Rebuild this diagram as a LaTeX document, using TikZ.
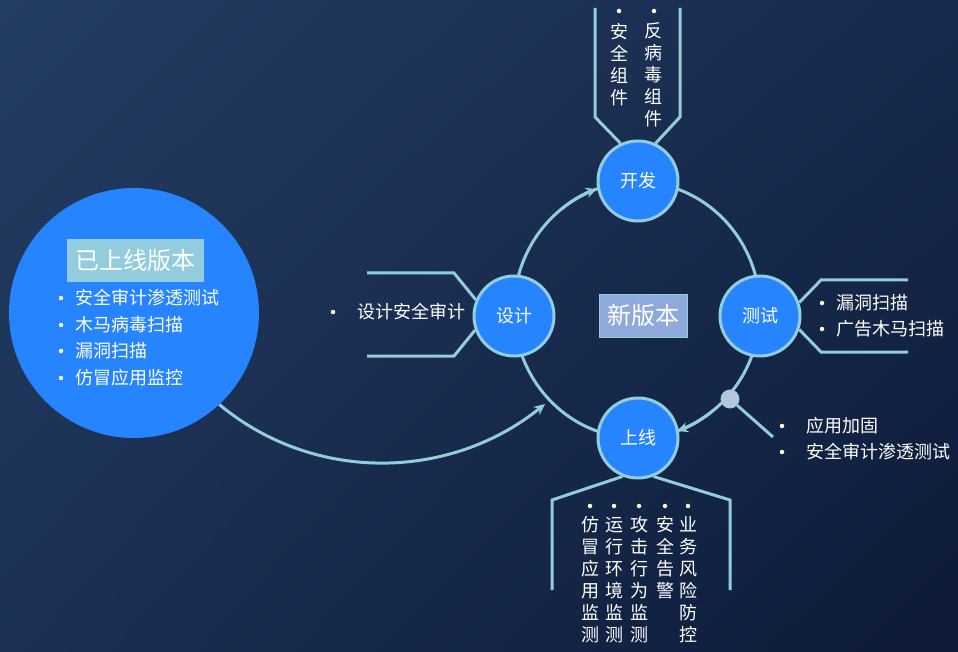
\documentclass[tikz,border=0pt]{standalone}
\usepackage{fontspec}
\setmainfont{Noto Sans CJK SC}
\usetikzlibrary{arrows.meta,calc,shadings}
\definecolor{ringc}{HTML}{92CDDC}
\definecolor{nodeblue}{HTML}{2684FF}
\definecolor{titlebg}{HTML}{93CDDD}
\definecolor{newbg}{HTML}{8EAADB}
\definecolor{bgA}{HTML}{243D63}
\definecolor{bgB}{HTML}{172A4D}
\definecolor{bgC}{HTML}{1B3054}
\definecolor{bgD}{HTML}{0D1A38}
\definecolor{dotc}{HTML}{B4C7DC}
\begin{document}
\begin{tikzpicture}[x=1pt,y=-1pt,
  ring/.style={draw=ringc,line width=3pt},
  tip/.style={-{Stealth[length=11pt,width=10pt]}},
  stage/.style={circle,fill=nodeblue,draw=ringc,line width=3pt,minimum size=80pt,inner sep=0pt,text=white,font=\fontsize{18}{22}\selectfont},
  txt/.style={text=white,font=\fontsize{18}{22}\selectfont,inner sep=0pt},
  vtxt/.style={text=white,font=\fontsize{18}{22}\selectfont,inner sep=0pt,align=center,anchor=center},
  bul/.style={fill=white,draw=none,circle,inner sep=0pt,minimum size=4.5pt}
]
\useasboundingbox (0,0) rectangle (958,652);
\shade[upper left=bgA, upper right=bgB, lower left=bgC, lower right=bgD] (0,0) rectangle (958,652);

% ring
\draw[ring] (637,310) ellipse [x radius=123, y radius=128];

% old version circle
\node[circle,fill=nodeblue,minimum size=250pt,inner sep=0pt] (old) at (134,313) {};
\node[fill=titlebg,minimum width=137pt,minimum height=43pt,inner sep=0pt,text=white,font=\fontsize{24}{28}\selectfont] (oldt) at (135.5,260.5) {已上线版本};
\foreach \yy/\tt [count=\i] in {298/安全审计渗透测试,325/木马病毒扫描,351/漏洞扫描,378/仿冒应用监控}{
  \node[bul] (ob\i) at (61,\yy) {};
  \node[txt,anchor=west] (ot\i) at (75,\yy) {\tt};
}

% stage nodes
\node[stage] (kf) at (638,181) {开发};
\node[stage] (sj) at (514,316) {设计};
\node[stage] (cs) at (760,316) {测试};
\node[stage] (sx) at (638,438) {上线};
\node[fill=newbg,draw=ringc,line width=0.8pt,minimum width=88pt,minimum height=43pt,inner sep=0pt,text=white,font=\fontsize{24}{28}\selectfont] (new) at (643,315.5) {新版本};

% arrows on ring
\draw[ring,tip] ($(637,310)+(-128:123 and 128)$) arc[start angle=-128,end angle=-109,x radius=123,y radius=128];
\draw[ring,tip] ($(637,310)+(52:123 and 128)$) arc[start angle=52,end angle=71,x radius=123,y radius=128];

% small marker on ring
\node[circle,fill=dotc,draw=ringc,line width=1pt,minimum size=18pt,inner sep=0pt] (mk) at (730,399) {};
\coordinate (mkend) at (773,437);
\draw[ring] (mk) -- (mkend);

% curve from old version to ring
\coordinate (ringin) at (545,404);
\draw[ring,tip] (old.-47) .. controls (315,484) and (451,480) .. (ringin);

% 开发 frame
\coordinate (kfa) at (595,8); \coordinate (kfb) at (595,117);
\coordinate (kfc) at (680,8); \coordinate (kfd) at (680,117);
\draw[ring] (kfa) -- (kfb) -- (kf.115);
\draw[ring] (kfc) -- (kfd) -- (kf.65);
\node[bul] (kb1) at (619,11) {};
\node[bul] (kb2) at (654,11) {};
\node[vtxt] (kt1) at (619,65) {安\\全\\组\\件};
\node[vtxt] (kt2) at (653,75) {反\\病\\毒\\组\\件};

% 设计 frame
\coordinate (sja) at (367,273); \coordinate (sjb) at (454,273);
\coordinate (sjc) at (367,356); \coordinate (sjd) at (454,356);
\draw[ring] (sja) -- (sjb) -- (sj.157);
\draw[ring] (sjc) -- (sjd) -- (sj.200);
\node[bul] (sb1) at (333,312) {};
\node[txt,anchor=west] (st1) at (357,312) {设计安全审计};

% 测试 frame
\coordinate (csa) at (908,280); \coordinate (csb) at (821,280);
\coordinate (csc) at (908,352); \coordinate (csd) at (821,352);
\draw[ring] (csa) -- (csb) -- (cs.19);
\draw[ring] (csc) -- (csd) -- (cs.-19);
\node[bul] (cb1) at (822,303) {};
\node[bul] (cb2) at (822,329) {};
\node[txt,anchor=west] (ct1) at (836,303) {漏洞扫描};
\node[txt,anchor=west] (ct2) at (836,329) {广告木马扫描};

% 上线 frame
\coordinate (sxa) at (552,590); \coordinate (sxb) at (552,500);
\coordinate (sxc) at (730,590); \coordinate (sxd) at (730,500);
\draw[ring] (sxa) -- (sxb) -- (sx.248);
\draw[ring] (sxc) -- (sxd) -- (sx.292);
\foreach \xx [count=\i] in {590,614,639,665,688}{ \node[bul] (xb\i) at (\xx,506) {}; }
\node[vtxt] (xt1) at (590,580) {仿\\冒\\应\\用\\监\\测};
\node[vtxt] (xt2) at (614,580) {运\\行\\环\\境\\监\\测};
\node[vtxt] (xt3) at (639,580) {攻\\击\\行\\为\\监\\测};
\node[vtxt] (xt4) at (665,558) {安\\全\\告\\警};
\node[vtxt] (xt5) at (688,580) {业\\务\\风\\险\\防\\控};

% 上线 right list
\node[bul] (rb1) at (782,426) {};
\node[bul] (rb2) at (782,452) {};
\node[txt,anchor=west] (rt1) at (806,426) {应用加固};
\node[txt,anchor=west] (rt2) at (806,452) {安全审计渗透测试};
\end{tikzpicture}
\end{document}
